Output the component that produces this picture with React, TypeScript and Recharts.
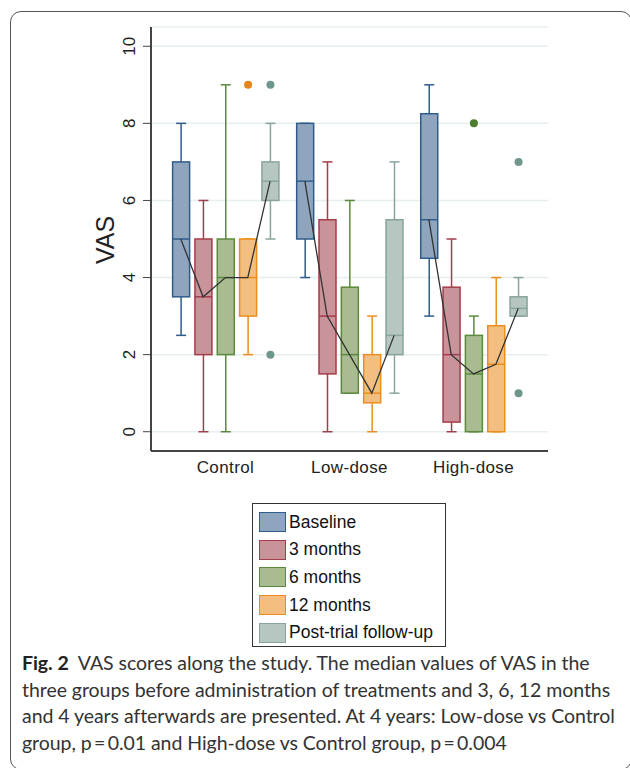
import React from 'react'
import { ComposedChart, Bar, Line, XAxis, YAxis, CartesianGrid } from 'recharts'

// VAS box plots: one box per group for each study time point
const groups = ['Control', 'Low-dose', 'High-dose']
const seriesNames = ['Baseline', '3 months', '6 months', '12 months', 'Post-trial follow-up']

type Stat = { min: number; q1: number; med: number; q3: number; max: number; out: number[] }

const baseline: Stat[] = [
  { min: 2.5, q1: 3.5, med: 5, q3: 7, max: 8, out: [] },
  { min: 4, q1: 5, med: 6.5, q3: 8, max: 8, out: [] },
  { min: 3, q1: 4.5, med: 5.5, q3: 8.25, max: 9, out: [] },
]
const months3: Stat[] = [
  { min: 0, q1: 2, med: 3.5, q3: 5, max: 6, out: [] },
  { min: 0, q1: 1.5, med: 3, q3: 5.5, max: 7, out: [] },
  { min: 0, q1: 0.25, med: 2, q3: 3.75, max: 5, out: [] },
]
const months6: Stat[] = [
  { min: 0, q1: 2, med: 4, q3: 5, max: 9, out: [] },
  { min: 1, q1: 1, med: 2, q3: 3.75, max: 6, out: [] },
  { min: 0, q1: 0, med: 1.5, q3: 2.5, max: 3, out: [8] },
]
const months12: Stat[] = [
  { min: 2, q1: 3, med: 4, q3: 5, max: 5, out: [9] },
  { min: 0, q1: 0.75, med: 1, q3: 2, max: 3, out: [] },
  { min: 0, q1: 0, med: 1.75, q3: 2.75, max: 4, out: [] },
]
const followUp: Stat[] = [
  { min: 5, q1: 6, med: 6.5, q3: 7, max: 8, out: [9, 2] },
  { min: 1, q1: 2, med: 2.5, q3: 5.5, max: 7, out: [] },
  { min: 3, q1: 3, med: 3.2, q3: 3.5, max: 4, out: [7, 1] },
]
const yTicks = [0, 2, 4, 6, 8, 10]

const allSeries = [baseline, months3, months6, months12, followUp]

const FILLS = ['#8fa5bd', '#c9939a', '#a9bb91', '#f2bf80', '#b5c7c0']
const STROKES = ['#2f5c8a', '#a53c4a', '#5b8a3c', '#ee8d1c', '#88a49c']
const DOTS = ['#2f5c8a', '#a53c4a', '#4f7d2e', '#e8851a', '#6f968c']
const STEP = 0.18

const rows = groups.flatMap((g, gi) =>
  allSeries.map((s, si) => ({
    x: gi + (si - 2) * STEP,
    si,
    group: g,
    range: [s[gi].min, s[gi].max],
    ...s[gi],
  }))
)
const medianLines = groups.map((_, gi) => rows.filter(r => Math.round(r.x) === gi))

const font = '"Liberation Sans", Arial, sans-serif'

function BoxShape(props: any) {
  const { x, y, width, height, payload } = props
  if (!payload || height == null) return null
  const top = Math.min(y, y + height)
  const h = Math.abs(height)
  const { min, max, q1, q3, med, out, si } = payload
  const px = (v: number) => top + (h * (max - v)) / (max - min)
  const cx = x + width / 2
  const stroke = STROKES[si]
  return (
    <g>
      <line x1={cx} x2={cx} y1={px(max)} y2={px(q3)} stroke={stroke} strokeWidth={1.5} />
      <line x1={cx} x2={cx} y1={px(q1)} y2={px(min)} stroke={stroke} strokeWidth={1.5} />
      <line x1={cx - 5} x2={cx + 5} y1={px(max)} y2={px(max)} stroke={stroke} strokeWidth={1.5} />
      <line x1={cx - 5} x2={cx + 5} y1={px(min)} y2={px(min)} stroke={stroke} strokeWidth={1.5} />
      <rect x={x} y={px(q3)} width={width} height={px(q1) - px(q3)} fill={FILLS[si]} stroke={stroke} strokeWidth={1.5} />
      <line x1={x} x2={x + width} y1={px(med)} y2={px(med)} stroke={stroke} strokeWidth={1.5} />
      {out.map((o: number, i: number) => (
        <circle key={i} cx={cx} cy={px(o)} r={4} fill={DOTS[si]} />
      ))}
    </g>
  )
}

function YTick(props: any) {
  const { x, y, payload } = props
  const tx = x - 6
  return (
    <text x={tx} y={y} transform={`rotate(-90, ${tx}, ${y})`} textAnchor="middle"
      fontSize={17} fontFamily={font} fill="#222">
      {payload.value}
    </text>
  )
}

function XTick(props: any) {
  const { x, y, payload } = props
  return (
    <text x={x} y={y + 14} textAnchor="middle" fontSize={17} fontFamily={font} fill="#222" letterSpacing={0.4}>
      {groups[payload.value]}
    </text>
  )
}

export default function App() {
  return (
    <div style={{ position: 'absolute', left: 0, top: 0, width: 630, height: 768, overflow: 'hidden', background: '#fff', fontFamily: font }}>
      <div style={{ position: 'absolute', left: 10, top: 11, width: 620, height: 757, border: '1.5px solid #555', borderRadius: 11 }} />
      <div style={{ position: 'absolute', left: 0, top: 0 }}>
        <ComposedChart width={630} height={490} data={rows} margin={{ top: 27, right: 82, left: 81, bottom: 0 }}>
          <CartesianGrid vertical={false} stroke="#e6eff0" strokeWidth={1.5} />
          <XAxis type="number" dataKey="x" domain={[-0.6, 2.6]} ticks={[0, 1, 2]} allowDataOverflow
            tickLine={false} axisLine={{ stroke: '#444', strokeWidth: 2 }} height={39} tick={<XTick />} />
          <YAxis type="number" domain={[-0.5, 10.5]} ticks={yTicks} allowDataOverflow width={70}
            tickSize={8} tickLine={{ stroke: '#444' }} axisLine={{ stroke: '#444', strokeWidth: 2 }} tick={<YTick />} />
          <Bar dataKey="range" barSize={17} shape={<BoxShape />} isAnimationActive={false} />
          {medianLines.map((d, i) => (
            <Line key={i} data={d} dataKey="med" type="linear" stroke="#333" strokeWidth={1.3}
              dot={false} activeDot={false} isAnimationActive={false} />
          ))}
        </ComposedChart>
      </div>
      <div style={{ position: 'absolute', left: 105, top: 240, transform: 'translate(-50%, -50%) rotate(-90deg)', fontSize: 25, color: '#222', whiteSpace: 'nowrap' }}>
        VAS
      </div>
      <div style={{ position: 'absolute', left: 252, top: 503, width: 192, height: 142, border: '1.5px solid #333' }}>
        {seriesNames.map((n, i) => (
          <div key={n} style={{ position: 'absolute', left: 6, top: 7 + i * 27.7, height: 22, display: 'flex', alignItems: 'center' }}>
            <div style={{ width: 25, height: 18, background: FILLS[i], border: `1.5px solid ${STROKES[i]}` }} />
            <span style={{ marginLeft: 3, fontSize: 17.5, color: '#111', whiteSpace: 'nowrap' }}>{n}</span>
          </div>
        ))}
      </div>
      <div style={{ position: 'absolute', left: 22, top: 650, fontFamily: 'Lato, sans-serif', fontSize: 19.5, lineHeight: '26.7px', color: '#333', whiteSpace: 'nowrap', letterSpacing: -0.05 }}>
        <div><b style={{ color: '#222' }}>Fig. 2</b>&nbsp; VAS scores along the study. The median values of VAS in the</div>
        <div>three groups before administration of treatments and 3, 6, 12 months</div>
        <div>and 4 years afterwards are presented. At 4 years: Low-dose vs Control</div>
        <div>group, p{'\u2009=\u2009'}0.01 and High-dose vs Control group, p{'\u2009=\u2009'}0.004</div>
      </div>
    </div>
  )
}
